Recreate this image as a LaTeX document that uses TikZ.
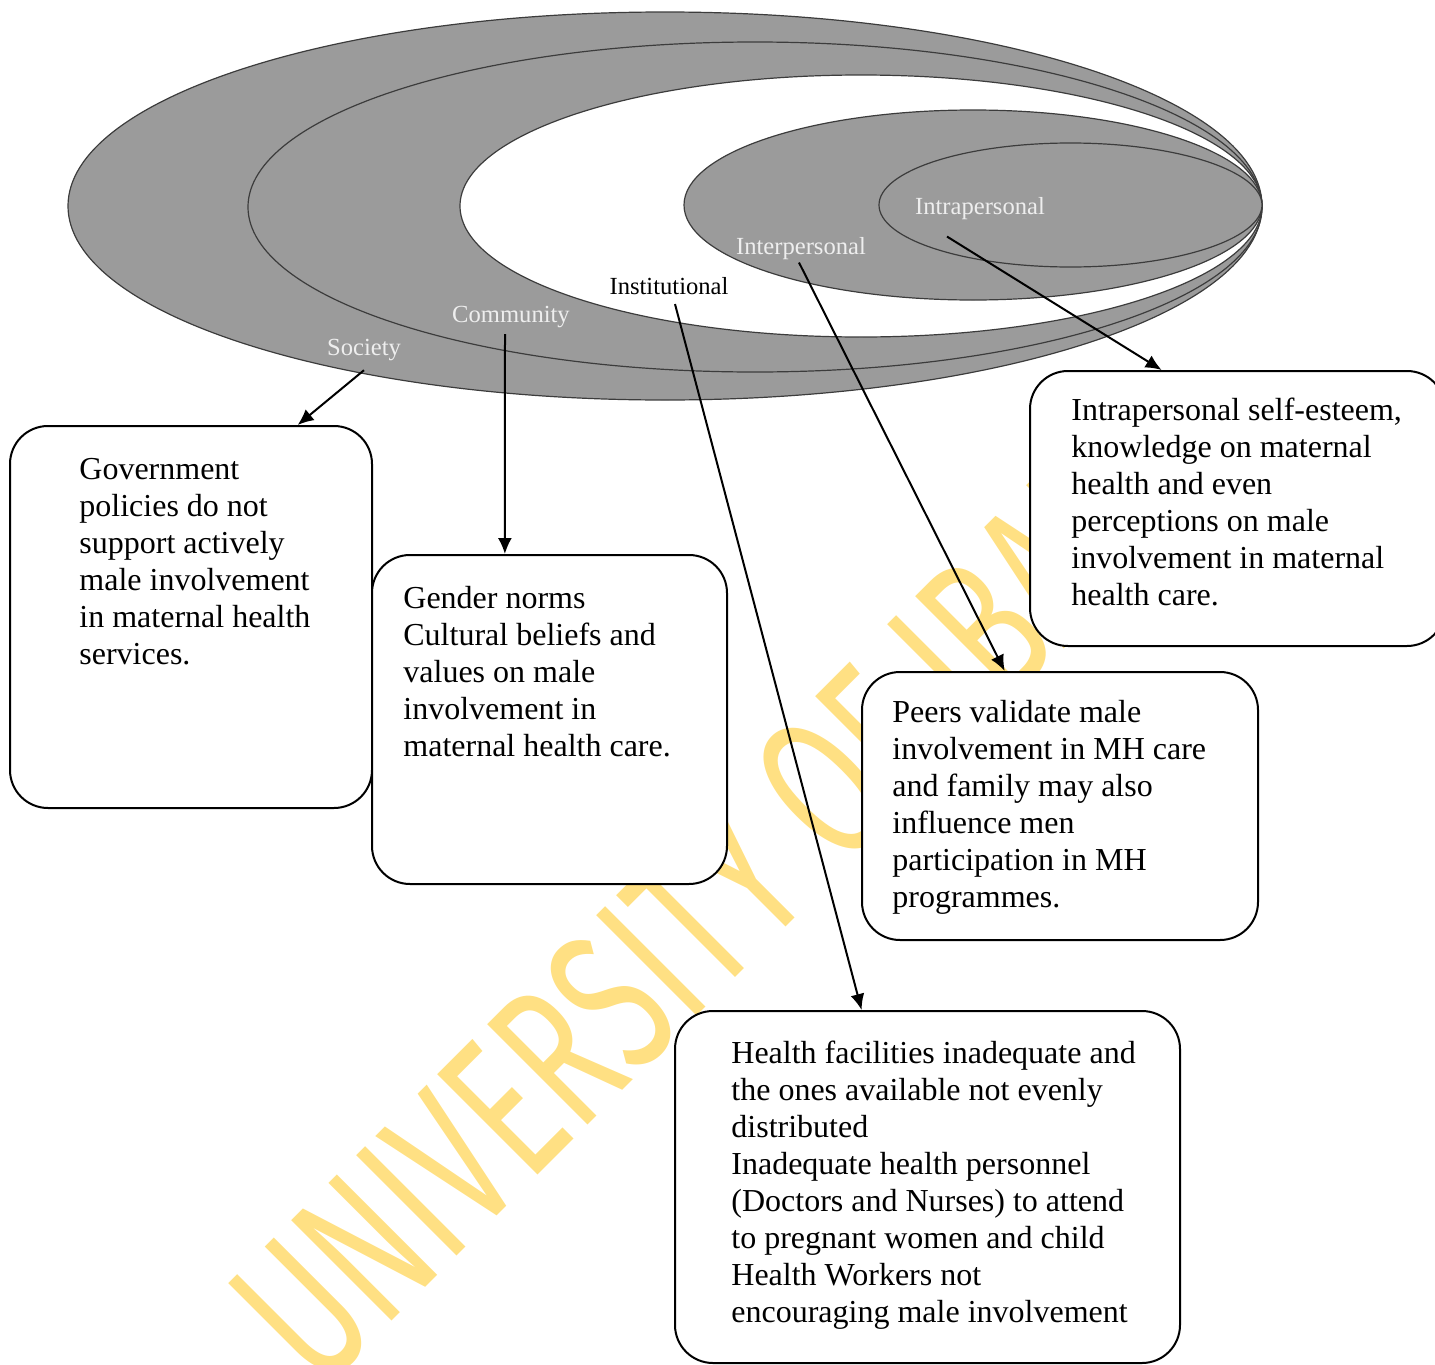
\documentclass[tikz,border=0pt]{standalone}
\usepackage{fontspec}
\setmainfont{Liberation Serif}
\newfontfamily\wmfont{Fira Sans}
\usetikzlibrary{arrows.meta,calc,positioning}
\definecolor{ringgray}{HTML}{9B9B9B}
\definecolor{ringline}{HTML}{3C3C3C}
\definecolor{labelgray}{HTML}{EEEEEE}
\definecolor{wmyellow}{HTML}{FFE083}

\begin{document}
\begin{tikzpicture}[x=0.5pt,y=-0.5pt,
ring/.style={draw=ringline,line width=0.6pt,fill=ringgray},
lab/.style={font=\fontsize{12.3}{14}\selectfont,text=labelgray,inner sep=1pt},
box/.style={draw,line width=1pt,rounded corners=19pt,fill=white,inner sep=0pt},
txt/.style={font=\fontsize{16}{18.5}\selectfont,align=left,inner sep=0pt,anchor=north west},
arr/.style={-{Latex[length=8pt,width=7pt]},line width=1pt}
]
\useasboundingbox (0,0) rectangle (1435,1365);
% watermark behind everything
\begin{scope}
\clip (0,405) rectangle (1435,1365);
\node[anchor=base west,rotate=45,inner sep=0pt,text=wmyellow] (wm) at (320,1393)
  {\scalebox{0.65}[1]{\wmfont\fontsize{103}{103}\selectfont UNIVERSITY OF IBADAN}};
\end{scope}
% nested levels
\draw[ring] (665,206) ellipse [x radius=597,y radius=194];
\draw[ring] (755,207) ellipse [x radius=507,y radius=165];
\draw[ring,fill=white] (861,206) ellipse [x radius=401,y radius=131];
\draw[ring] (973,205) ellipse [x radius=289,y radius=95];
\draw[ring] (1070.5,205) ellipse [x radius=191.5,y radius=62];
\node[lab] (soc) at (364,350) {Society};
\node[lab] (com) at (511,317) {Community};
\node[lab,text=black] (inst) at (669,286) {Institutional};
\node[lab] (inter) at (801,249) {Interpersonal};
\node[lab] (intra) at (980,209) {Intrapersonal};
% boxes
\node[box,minimum width=181pt,minimum height=191pt] (gov) at (191,617) {};
\node[txt] (govtxt) at ($(gov.north west)+(70,33)$) {Government\\policies do not\\support actively\\male involvement\\in maternal health\\services.};
\node[box,minimum width=177.5pt,minimum height=164.5pt] (gen) at (549.5,719.5) {};
\node[txt] (gentxt) at ($(gen.north west)+(32,32)$) {Gender norms\\Cultural beliefs and\\values on male\\involvement in\\maternal health care.};
\node[box,minimum width=207.5pt,minimum height=137.5pt] (self) at (1237.5,508.5) {};
\node[txt] (selftxt) at ($(self.north west)+(42,28)$) {Intrapersonal self-esteem,\\knowledge on maternal\\health and even\\perceptions on male\\involvement in maternal\\health care.};
\node[box,minimum width=198pt,minimum height=134pt] (peer) at (1060,806) {};
\node[txt] (peertxt) at ($(peer.north west)+(31,29)$) {Peers validate male\\involvement in MH care\\and family may also\\influence men\\participation in MH\\programmes.};
\node[box,minimum width=252.5pt,minimum height=176pt] (fac) at (927.5,1187) {};
\node[txt] (factxt) at ($(fac.north west)+(57,31)$) {Health facilities inadequate and\\the ones available not evenly\\distributed\\Inadequate health personnel\\(Doctors and Nurses) to attend\\to pregnant women and child\\Health Workers not\\encouraging male involvement};
% links
\draw[arr] ($(soc.south)+(0,7)$) -- ($(gov.north west)!0.793!(gov.north east)$);
\draw[arr] ($(com.south)+(-6,4)$) -- ($(gen.north west)!0.375!(gen.north east)$);
\draw[arr] ($(inst.south)+(6,7)$) -- ($(fac.north west)!0.37!(fac.north east)$);
\draw[arr] ($(inter.south)+(-2,0)$) -- ($(peer.north west)!0.361!(peer.north east)$);
\draw[arr] ($(intra.south)+(-33,14)$) -- ($(self.north west)!0.318!(self.north east)$);
\end{tikzpicture}
\end{document}
